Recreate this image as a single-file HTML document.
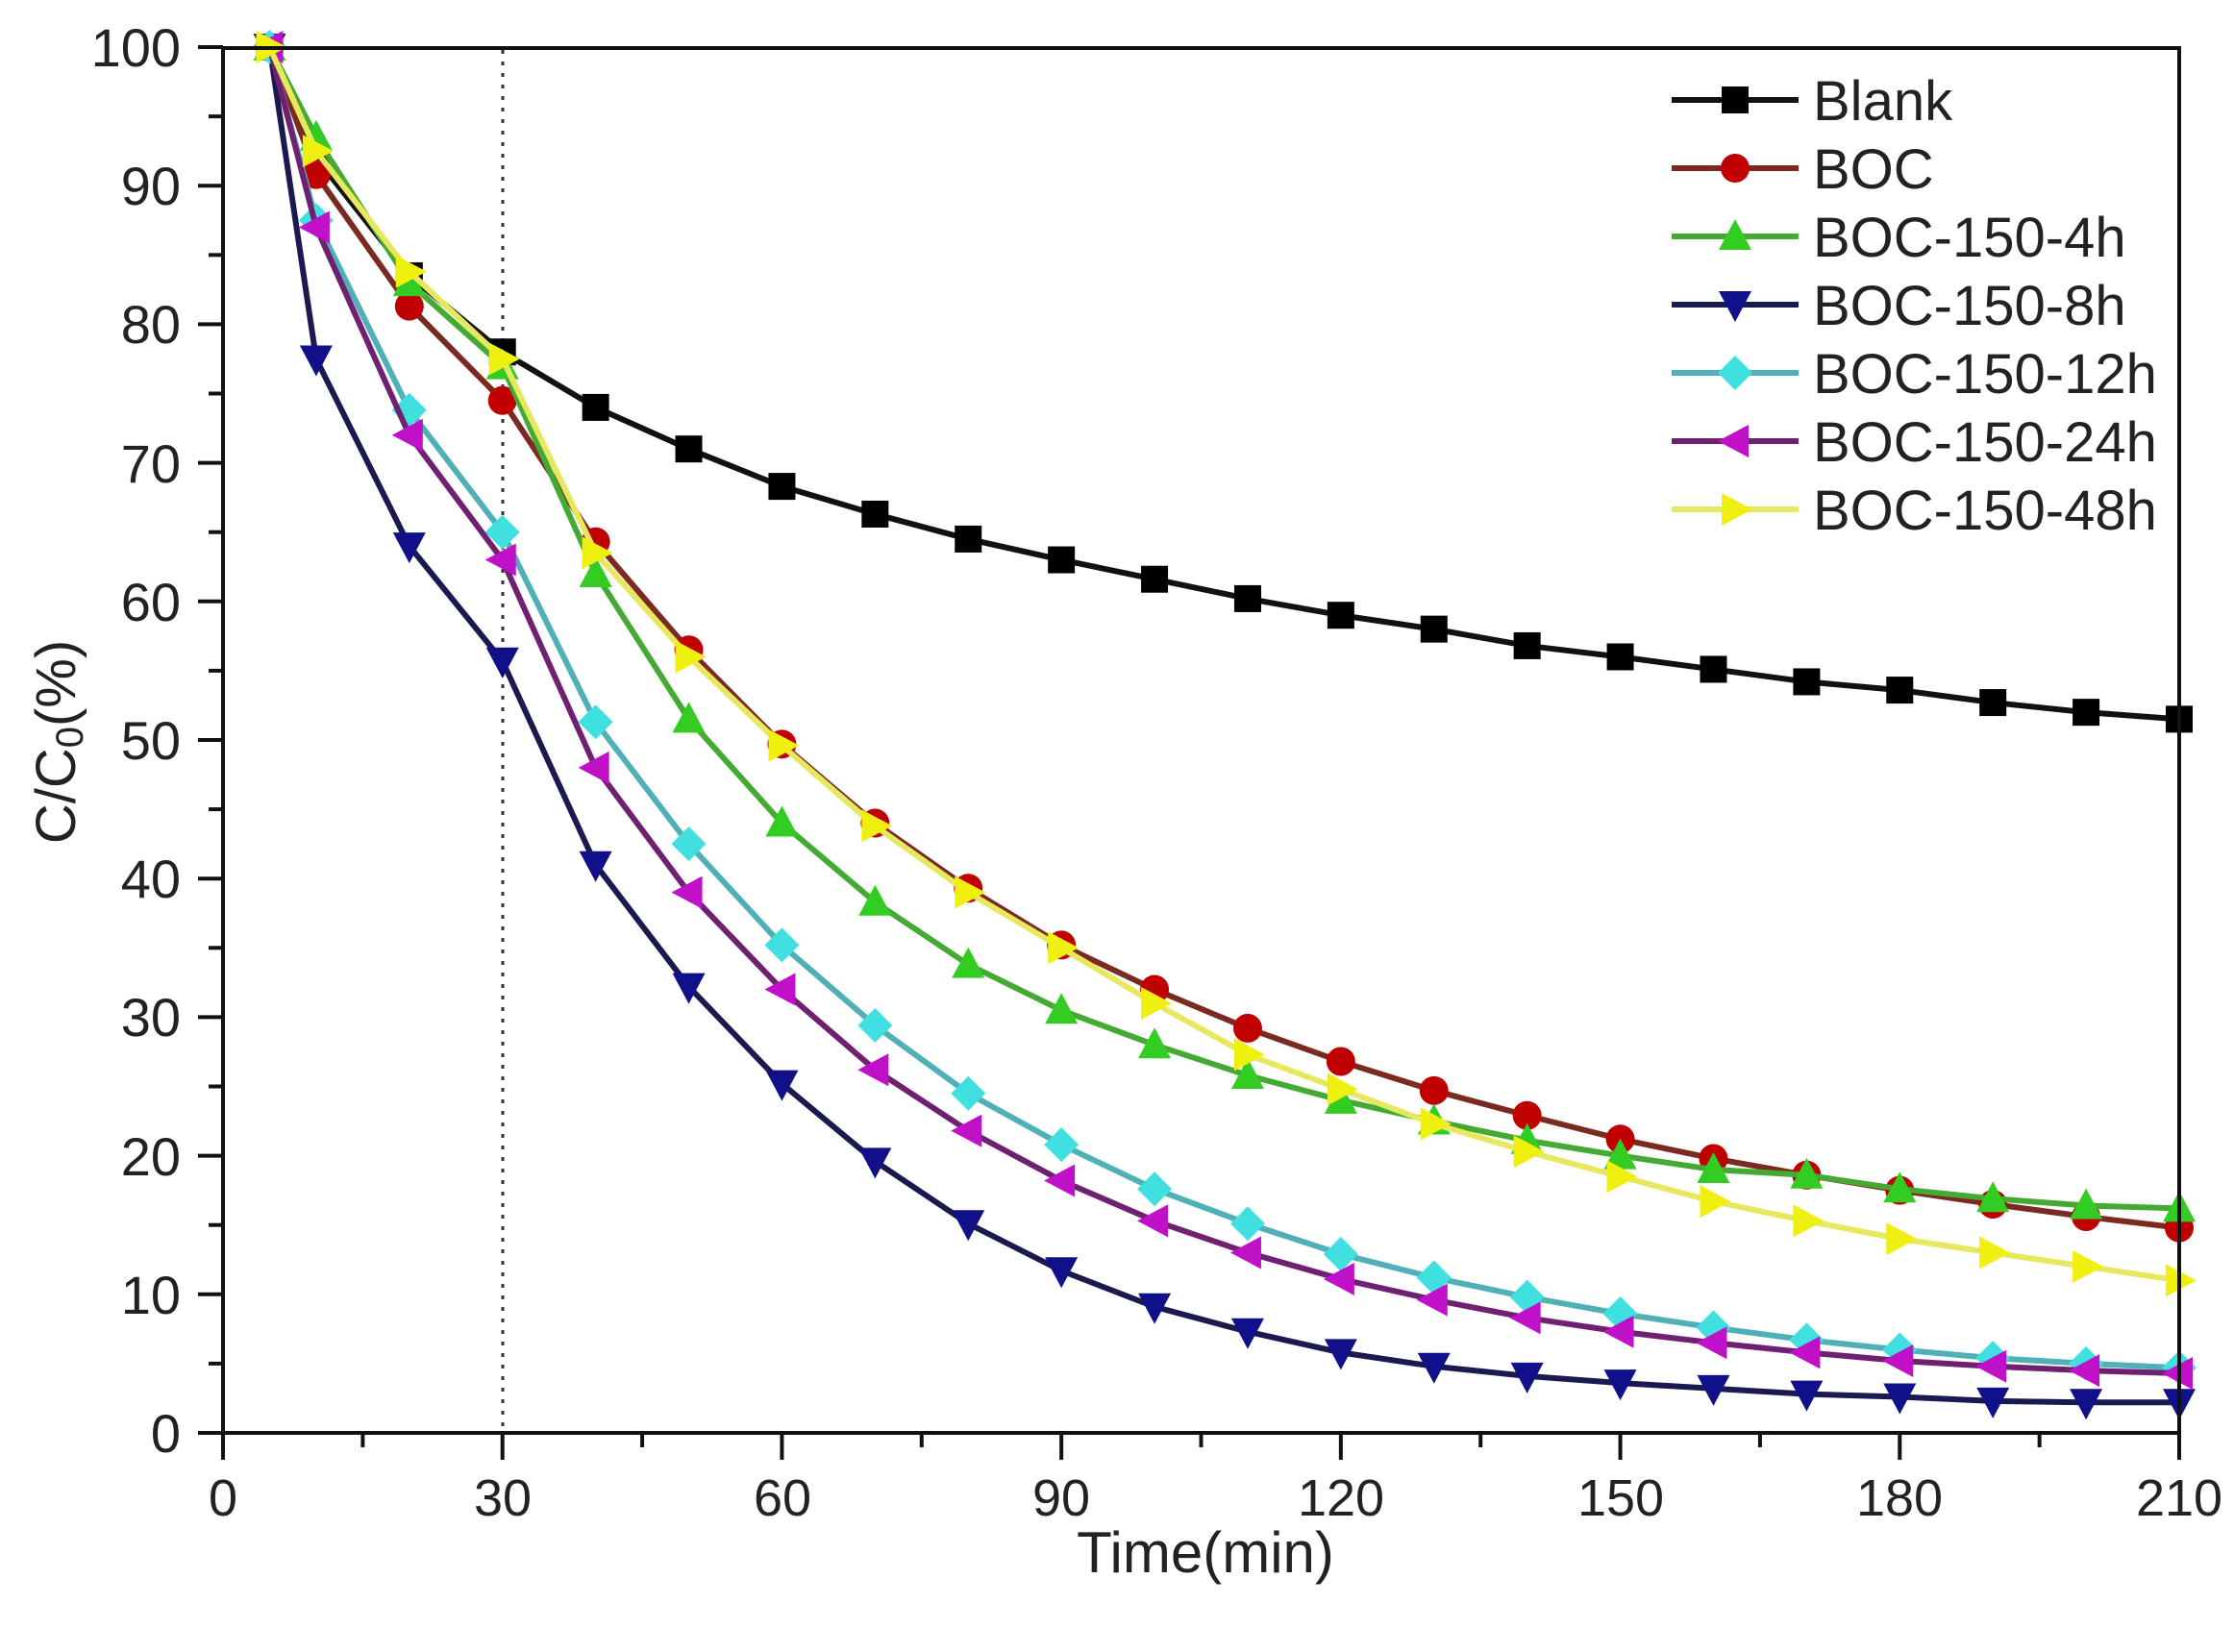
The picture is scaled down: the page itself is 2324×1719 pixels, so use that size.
<!DOCTYPE html>
<html><head><meta charset="utf-8"><style>
html,body{margin:0;padding:0;background:#fff;}
svg{display:block;}
text{font-family:"Liberation Sans",Arial,sans-serif;fill:#222;}
</style></head><body>
<svg id="s" width="2324" height="1719" viewBox="0 0 2324 1719" xmlns="http://www.w3.org/2000/svg">
<rect width="2324" height="1719" fill="#fff"/>
<line x1="523" y1="52" x2="523" y2="1489" stroke="#333" stroke-width="3" stroke-dasharray="4,8"/>
<g id="series"></g>
<rect x="232" y="50" width="2035" height="1441" fill="none" stroke="#111" stroke-width="4"/>
<g id="ticks" stroke="#111" stroke-width="4"></g>
<g font-size="56" text-anchor="end">
<text x="188" y="1511">0</text><text x="188" y="1367">10</text><text x="188" y="1223">20</text>
<text x="188" y="1078">30</text><text x="188" y="934">40</text><text x="188" y="790">50</text>
<text x="188" y="646">60</text><text x="188" y="502">70</text><text x="188" y="357">80</text>
<text x="188" y="213">90</text><text x="188" y="69">100</text>
</g>
<g font-size="54" text-anchor="middle">
<text x="232" y="1577">0</text><text x="523" y="1577">30</text><text x="814" y="1577">60</text>
<text x="1104" y="1577">90</text><text x="1395" y="1577">120</text><text x="1686" y="1577">150</text>
<text x="1976" y="1577">180</text><text x="2267" y="1577">210</text>
</g>
<text x="1254" y="1636" font-size="60" text-anchor="middle">Time(min)</text>
<text transform="translate(78,772) rotate(-90)" font-size="58" text-anchor="middle">C/C<tspan font-size="40" dy="8">0</tspan><tspan dy="-8">(%)</tspan></text>
<g font-size="58">
<text x="1886" y="125">Blank</text>
<text x="1886" y="196">BOC</text>
<text x="1886" y="267">BOC-150-4h</text>
<text x="1886" y="338">BOC-150-8h</text>
<text x="1886" y="409">BOC-150-12h</text>
<text x="1886" y="480">BOC-150-24h</text>
<text x="1886" y="551">BOC-150-48h</text>
</g>
<g id="legend"></g>
</svg>
<script>
var NS="http://www.w3.org/2000/svg";
function el(t,a,p){var e=document.createElementNS(NS,t);for(var k in a)e.setAttribute(k,a[k]);p.appendChild(e);return e;}
var X=function(t){return 232+t*2035/210;}, Y=function(v){return 1491-v*14.42;};
var tk=document.getElementById('ticks');
for(var v=0;v<=100;v+=5){var L=(v%10==0)?26:15;el('line',{x1:232-L,x2:232,y1:Y(v),y2:Y(v)},tk);}
for(var t=0;t<=210;t+=15){var L=(t%30==0)?28:15;el('line',{x1:X(t),x2:X(t),y1:1491,y2:1491+L},tk);}
var times=[5,10,20,30,40,50,60,70,80,90,100,110,120,130,140,150,160,170,180,190,200,210];
var S=[
{c:'#000',lc:'#111',m:'sq',d:[100,92,83.5,78,74,71,68.3,66.3,64.5,63,61.6,60.2,59,58,56.8,56,55.1,54.2,53.6,52.7,52,51.5]},
{c:'#c00000',lc:'#7a2a20',m:'ci',d:[100,90.8,81.3,74.5,64.3,56.5,49.7,44,39.3,35.2,32,29.2,26.8,24.7,22.9,21.2,19.8,18.6,17.5,16.5,15.6,14.8]},
{c:'#33cc22',lc:'#44aa33',m:'up',d:[100,93.5,83,77,62,51.5,44,38.3,33.8,30.5,28,25.8,24,22.5,21.1,20,19,18.6,17.6,16.9,16.4,16.2]},
{c:'#10108a',lc:'#1a1a50',m:'dn',d:[100,77.5,64,55.7,41,32.2,25.2,19.6,15.1,11.7,9.1,7.3,5.8,4.8,4.1,3.6,3.2,2.8,2.6,2.3,2.2,2.2]},
{c:'#40e0e0',lc:'#50b0b8',m:'di',d:[100,87.5,73.8,65,51.3,42.5,35.2,29.4,24.5,20.8,17.6,15.1,12.9,11.2,9.8,8.6,7.6,6.7,6,5.4,5,4.7]},
{c:'#c010c8',lc:'#702070',m:'lt',d:[100,87,72,63,48,39,32,26.2,21.8,18.2,15.3,13,11.1,9.6,8.3,7.3,6.5,5.8,5.2,4.8,4.5,4.3]},
{c:'#f0f010',lc:'#e8e860',m:'rt',d:[100,92.5,83.8,77.5,63.5,56,49.6,43.8,39,35,31,27.3,24.8,22.3,20.3,18.5,16.7,15.3,14,13,12,11]}
];
function mk(m,x,y,c,g){var r=15;
 if(m=='sq')el('rect',{x:x-r+1,y:y-r+1,width:2*r-2,height:2*r-2,fill:c},g);
 else if(m=='ci')el('circle',{cx:x,cy:y,r:r,fill:c},g);
 else{var p;
  if(m=='up')p=[[x,y-r-3],[x+r+2,y+r-1],[x-r-2,y+r-1]];
  if(m=='dn')p=[[x,y+r+3],[x+r+2,y-r+1],[x-r-2,y-r+1]];
  if(m=='lt')p=[[x-r-3,y],[x+r-1,y-r-2],[x+r-1,y+r+2]];
  if(m=='rt')p=[[x+r+3,y],[x-r+1,y-r-2],[x-r+1,y+r+2]];
  if(m=='di')p=[[x,y-r-3],[x+r+3,y],[x,y+r+3],[x-r-3,y]];
  el('polygon',{points:p.map(function(a){return a.join(',')}).join(' '),fill:c},g);}
}
var g=document.getElementById('series');
S.forEach(function(s){
 var pts=s.d.map(function(v,i){return X(times[i])+','+Y(v);}).join(' ');
 el('polyline',{points:pts,fill:'none',stroke:s.lc,'stroke-width':6},g);
 s.d.forEach(function(v,i){mk(s.m,X(times[i]),Y(v),s.c,g);});
});
var lg=document.getElementById('legend');var ly=[104,175,246,317,388,459,530];
S.forEach(function(s,i){el('line',{x1:1739,x2:1871,y1:ly[i],y2:ly[i],stroke:s.lc,'stroke-width':6},lg);mk(s.m,1805,ly[i],s.c,lg);});
</script>
</body></html>
